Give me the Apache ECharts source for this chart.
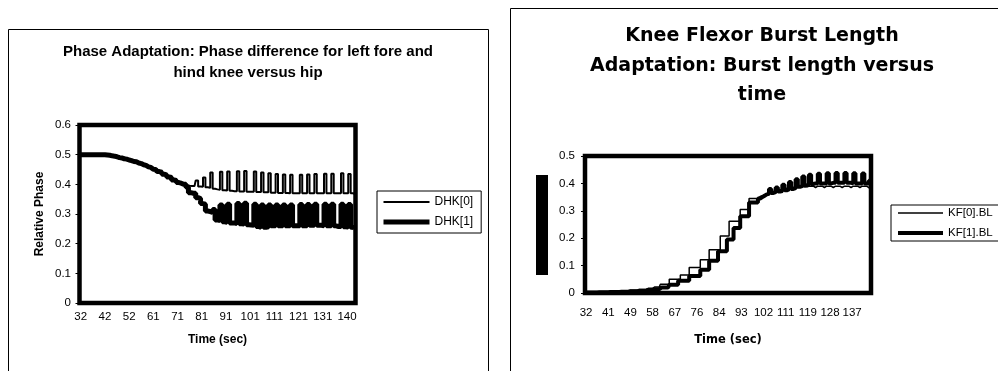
<!DOCTYPE html>
<html><head><meta charset="utf-8">
<script src="https://cdn.jsdelivr.net/npm/echarts@6/dist/echarts.min.js"></script>
<style>html,body{margin:0;padding:0;background:#fff}#c{width:998px;height:371px}</style>
</head><body><div id="c"></div>
<script>
// ---- Left chart: Phase adaptation ----
const leftTimes = [32,33,34,35,36,37,38,39,40,41,
 42,43,44,45,46,47,48,49,50,51,
 52,52.9,53.8,54.7,55.6,56.5,57.4,58.3,59.2,60.1,
 61,62,63,64,65,66,67,68,69,70,
 71,72,73,74,75,76,77,78,79,80,
 81,82,83,84,85,86,87,88,89,90,
 91,92,93,94,95,96,97,98,99,100,
 101,102,103,104,105,106,107,108,109,110,
 111,112,113,114,115,116,117,118,119,120,
 121,122,123,124,125,126,127,128,129,130,
 131,131.9,132.8,133.7,134.6,135.5,136.4,137.3,138.2,139.1,
 140,140.9,141.8,142.7];
const dhk0 = [0.5,0.5,0.5,0.5,0.5,0.5,0.5,0.5,0.5,0.5,0.5,
 0.499,0.498,0.497,0.495,0.494,0.492,0.49,0.488,0.486,0.484,
 0.482,0.48,0.477,0.475,0.472,0.468,0.465,0.461,0.457,0.453,
 0.449,0.445,0.441,0.437,0.433,0.429,0.424,0.42,0.416,0.412,
 0.408,0.404,0.4,0.397,
 0.395,0.394,0.394,0.413,0.393,0.392,0.423,0.39,0.388,0.44,
 0.385,0.383,0.382,0.442,0.38,0.379,0.443,0.378,0.377,0.377,
 0.444,0.376,0.376,0.445,0.375,0.375,0.375,0.443,0.374,0.374,
 0.44,0.373,0.373,0.437,0.372,0.372,0.435,0.371,0.371,0.433,
 0.371,0.37,0.432,0.37,0.37,0.37,0.432,0.37,0.37,0.433,
 0.37,0.37,0.435,0.37,0.37,0.37,0.436,0.37,0.37,0.436,
 0.37,0.37,0.37,0.437,0.37,0.37,0.435,0.37,0.368];
const dhk1 = [0.5,0.5,0.5,0.5,0.5,0.5,0.5,0.5,0.5,0.5,0.5,
 0.499,0.498,0.496,0.495,0.493,0.49,0.489,0.486,0.485,0.482,
 0.48,0.477,0.476,0.472,0.47,0.466,0.464,0.459,0.457,0.451,
 0.45,0.443,0.441,0.434,0.432,0.425,0.423,0.415,0.413,0.406,
 0.404,0.4,0.4,0.39,
 0.372,0.37,0.37,0.355,0.352,0.335,0.333,0.31,0.308,0.305,
 0.315,0.28,0.278,0.33,0.274,0.272,0.333,0.27,0.27,0.268,
 0.335,0.267,0.266,0.336,0.264,0.263,0.262,0.333,0.258,0.255,
 0.33,0.255,0.257,0.33,0.26,0.26,0.33,0.26,0.26,0.33,
 0.26,0.26,0.33,0.26,0.26,0.26,0.332,0.26,0.26,0.332,
 0.262,0.262,0.333,0.262,0.262,0.26,0.333,0.26,0.26,0.333,
 0.26,0.258,0.258,0.333,0.257,0.256,0.332,0.255,0.253];

// ---- Right chart: Knee flexor burst length ----
const rightTimes = [32,32.9,33.8,34.7,35.6,36.5,37.4,38.3,39.2,40.1,
 41,41.8,42.6,43.4,44.2,45,45.8,46.6,47.4,48.2,
 49,49.9,50.8,51.7,52.6,53.5,54.4,55.3,56.2,57.1,
 58,58.9,59.8,60.7,61.6,62.5,63.4,64.3,65.2,66.1,
 67,67.9,68.8,69.7,70.6,71.5,72.4,73.3,74.2,75.1,
 76,76.8,77.6,78.4,79.2,80,80.8,81.6,82.4,83.2,
 84,84.9,85.8,86.7,87.6,88.5,89.4,90.3,91.2,92.1,
 93,93.9,94.8,95.7,96.6,97.5,98.4,99.3,100.2,101.1,
 102,102.9,103.8,104.7,105.6,106.5,107.4,108.3,109.2,110.1,
 111,111.8,112.6,113.4,114.2,115,115.8,116.6,117.4,118.2,
 119,119.9,120.8,121.7,122.6,123.5,124.4,125.3,126.2,127.1,
 128,128.9,129.8,130.7,131.6,132.5,133.4,134.3,135.2,136.1,
 137,137.9,138.8,139.7,140.6,141.5,142.4,143.3,144.2];
const kf0 = [0.004,0.004,0.004,0.004,0.004,0.004,
 0.005,0.005,0.005,0.005,0.005,
 0.006,0.006,0.006,0.006,0.006,
 0.008,0.008,0.008,0.008,
 0.01,0.01,0.01,0.01,
 0.013,0.013,0.013,0.013,
 0.017,0.017,0.017,
 0.022,0.022,0.022,
 0.032,0.032,0.032,0.032,
 0.05,0.05,0.05,0.05,0.05,
 0.066,0.066,0.066,0.066,
 0.093,0.093,0.093,0.093,0.093,
 0.121,0.121,0.121,0.121,
 0.158,0.158,0.158,0.158,0.158,
 0.208,0.208,0.208,0.208,
 0.262,0.262,0.262,0.262,0.262,
 0.305,0.305,0.305,0.305,
 0.345,0.345,0.345,0.345,
 0.352,0.355,0.358,0.36,
 0.365,0.368,0.37,0.372,
 0.375,0.377,0.378,0.38,
 0.382,0.383,0.384,0.385,
 0.386,0.387,0.387,0.388,
 0.388,0.389,0.39,0.39,0.39,0.385,0.39,0.39,0.39,0.385,0.39,0.39,0.39,0.385,0.39,0.39,
 0.39,0.385,0.39,0.39,0.39,0.385,0.39,0.39,0.39,0.385,0.39,0.39,0.39,0.385,0.38];
const kf1 = [0.002,0.002,0.002,0.002,0.002,0.002,
 0.003,0.003,0.003,0.003,0.003,
 0.004,0.004,0.004,0.004,0.004,
 0.005,0.005,0.005,0.005,
 0.006,0.006,0.006,0.006,
 0.008,0.008,0.008,0.008,
 0.011,0.011,0.011,
 0.014,0.014,0.014,
 0.02,0.02,0.02,0.02,
 0.03,0.03,0.03,0.03,
 0.045,0.045,0.045,0.045,0.045,
 0.062,0.062,0.062,0.062,0.062,
 0.085,0.085,0.085,0.085,
 0.118,0.118,0.118,0.118,
 0.152,0.152,0.152,0.152,
 0.195,0.195,0.195,
 0.237,0.237,0.237,
 0.28,0.28,0.28,0.28,
 0.33,0.33,0.33,0.33,
 0.345,0.35,0.355,0.36,
 0.362,0.38,0.365,0.368,0.385,0.37,0.372,0.395,0.375,0.378,
 0.405,0.38,0.383,0.415,0.388,0.39,0.425,0.392,0.395,
 0.432,0.398,0.4,0.4,0.435,0.4,0.4,0.4,0.437,0.4,0.402,0.402,0.438,0.402,
 0.402,0.402,0.438,0.402,0.402,0.4,0.437,0.4,0.4,0.4,0.436,0.4,0.4,0.41];

const F = '"Liberation Sans", Arial, sans-serif';
const D = '"DejaVu Sans", sans-serif';
const roundLabel = v => String(Math.round(parseFloat(v)));
const hiddenSymbol = {opacity: 0};

const chart = echarts.init(document.getElementById('c'), null, {renderer: 'canvas'});
chart.setOption({
  animation: false,
  backgroundColor: '#fff',
  graphic: [
    {type: 'rect', silent: true, shape: {x: 8.5, y: 29.5, width: 480, height: 400}, style: {fill: 'none', stroke: '#000', lineWidth: 1}},
    {type: 'rect', silent: true, shape: {x: 510.5, y: 8.5, width: 500, height: 400}, style: {fill: 'none', stroke: '#000', lineWidth: 1}},
    {type: 'rect', silent: true, shape: {x: 536, y: 175, width: 12, height: 100}, style: {fill: '#000'}},
    {type: 'text', silent: true, x: 248, y: 41, style: {text: 'Phase Adaptation: Phase difference for left fore and\nhind knee versus hip', font: 'bold 15px ' + F, align: 'center', textAlign: 'center', verticalAlign: 'top', textVerticalAlign: 'top', lineHeight: 21, fill: '#000'}},
    {type: 'text', silent: true, x: 762, y: 21.5, style: {text: 'Knee Flexor Burst Length\nAdaptation: Burst length versus\ntime', font: 'bold 19px ' + D, align: 'center', textAlign: 'center', verticalAlign: 'top', textVerticalAlign: 'top', lineHeight: 29.5, fill: '#000'}}
  ],
  legend: [
    {data: [{name: 'DHK[0]', lineStyle: {width: 2}, itemStyle: hiddenSymbol}, {name: 'DHK[1]', lineStyle: {width: 5}, itemStyle: hiddenSymbol}],
     orient: 'vertical', left: 377, top: 191, padding: [5, 8, 5, 4], itemWidth: 46, itemHeight: 14, itemGap: 8,
     borderColor: '#000', borderWidth: 1, selectedMode: false, textStyle: {fontFamily: F, fontSize: 12, color: '#000'}},
    {data: [{name: 'KF[0].BL', lineStyle: {width: 1.5}, itemStyle: hiddenSymbol}, {name: 'KF[1].BL', lineStyle: {width: 4}, itemStyle: hiddenSymbol}],
     orient: 'vertical', left: 891, top: 205, padding: [2, 6, 2, 5], itemWidth: 45, itemHeight: 12, itemGap: 8,
     borderColor: '#000', borderWidth: 1, selectedMode: false, textStyle: {fontFamily: F, fontSize: 11.5, color: '#000'}}
  ],
  grid: [
    {left: 79.5, top: 125, width: 276, height: 178, show: true, borderColor: '#000', borderWidth: 4.5, backgroundColor: 'transparent', containLabel: false, outerBoundsMode: 'none'},
    {left: 585, top: 156, width: 286, height: 137, show: true, borderColor: '#000', borderWidth: 4.5, backgroundColor: 'transparent', containLabel: false, outerBoundsMode: 'none'}
  ],
  xAxis: [
    {type: 'category', gridIndex: 0, data: leftTimes, boundaryGap: true,
     axisLine: {show: false}, axisTick: {show: false}, splitLine: {show: false},
     axisLabel: {interval: 9, margin: 8, fontFamily: F, fontSize: 11.5, color: '#000', formatter: roundLabel},
     name: 'Time (sec)', nameLocation: 'middle', nameGap: 31,
     nameTextStyle: {fontFamily: F, fontWeight: 'bold', fontSize: 12, color: '#000'}},
    {type: 'category', gridIndex: 1, data: rightTimes, boundaryGap: true,
     axisLine: {show: false}, axisTick: {show: false}, splitLine: {show: false},
     axisLabel: {interval: 9, margin: 14, fontFamily: F, fontSize: 11.5, color: '#000', formatter: roundLabel},
     name: 'Time (sec)', nameLocation: 'middle', nameGap: 41,
     nameTextStyle: {fontFamily: D, fontWeight: 'bold', fontSize: 11.5, color: '#000'}}
  ],
  yAxis: [
    {type: 'value', gridIndex: 0, min: 0, max: 0.6, interval: 0.1,
     axisLine: {show: false}, axisTick: {show: true, length: 4, lineStyle: {color: '#000'}}, splitLine: {show: false},
     axisLabel: {margin: 8.5, fontFamily: F, fontSize: 11.5, color: '#000'},
     name: 'Relative Phase', nameLocation: 'middle', nameRotate: 90, nameGap: 34,
     nameTextStyle: {fontFamily: F, fontWeight: 'bold', fontSize: 12, color: '#000'}},
    {type: 'value', gridIndex: 1, min: 0, max: 0.5, interval: 0.1,
     axisLine: {show: false}, axisTick: {show: true, length: 4, lineStyle: {color: '#000'}}, splitLine: {show: false},
     axisLabel: {margin: 10, fontFamily: F, fontSize: 11.5, color: '#000'}}
  ],
  series: [
    {name: 'DHK[1]', type: 'line', step: 'middle', xAxisIndex: 0, yAxisIndex: 0, data: dhk1, symbol: 'none', lineStyle: {color: '#000', width: 5}, itemStyle: {color: '#000'}},
    {name: 'DHK[0]', type: 'line', step: 'middle', xAxisIndex: 0, yAxisIndex: 0, data: dhk0, symbol: 'none', lineStyle: {color: '#000', width: 2}, itemStyle: {color: '#000'}},
    {name: 'KF[1].BL', type: 'line', step: 'middle', xAxisIndex: 1, yAxisIndex: 1, data: kf1, symbol: 'none', lineStyle: {color: '#000', width: 4}, itemStyle: {color: '#000'}},
    {name: 'KF[0].BL', type: 'line', step: 'middle', xAxisIndex: 1, yAxisIndex: 1, data: kf0, symbol: 'none', lineStyle: {color: '#000', width: 1.5}, itemStyle: {color: '#000'}}
  ]
});
</script>
</body></html>
